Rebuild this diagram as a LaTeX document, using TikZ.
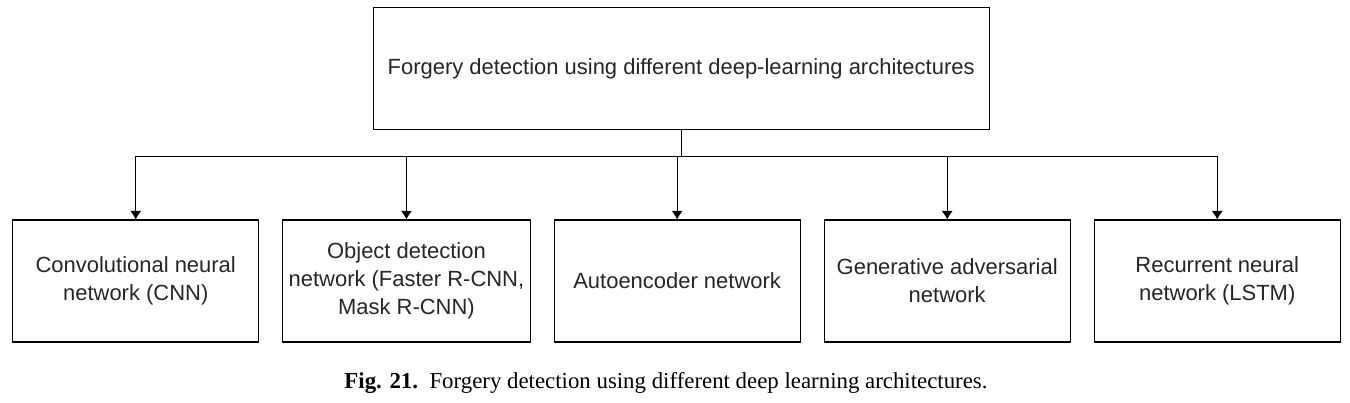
\documentclass[tikz,border=0pt]{standalone}
\usepackage{fontspec}
\setmainfont{Liberation Sans}
\newfontfamily\capfont{Liberation Serif}
\usetikzlibrary{calc}
\usetikzlibrary{positioning}
\usetikzlibrary{arrows.meta}

\begin{document}
\begin{tikzpicture}[thick, line width=0.6pt, >={Latex[length=1.7mm,width=2.2mm]}, arrows=->,
    box/.style={rectangle, draw, minimum width=4.92cm, minimum height=2.44cm,
      align=center, text=black!85, font=\fontsize{12.5}{16}\selectfont},
    topbox/.style={box, minimum width=12.32cm},
  ]
\useasboundingbox (0,0) rectangle (27,-8.04);
\matrix (row) at (13.53,-5.62) [column sep=0.46cm]{
% bottom row
  \node(cnn)[box]{Convolutional neural\\network (CNN)};
  & \node(obj)[box]{Object detection\\network (Faster R-CNN,\\Mask R-CNN)};
  & \node(ae) [box]{Autoencoder network};
  & \node(gan)[box]{Generative adversarial\\network};
  & \node(rnn)[box]{Recurrent neural\\network (LSTM)};\\
};
\node(top)[topbox, above=1.78cm of ae, xshift=0.08cm]
  {Forgery detection using different deep-learning architectures};
\coordinate (bus) at ($(top.south)+(0,-0.52)$);

\draw[-] (top.south) -- (bus);
\draw[-] (cnn.north |- bus) -- (rnn.north |- bus);
\foreach \n in {cnn, obj, ae, gan, rnn} {
  \draw (\n.north |- bus) -- (\n.north);
};

\node(cap) at (13.32,-7.76) [anchor=base, font=\capfont\fontsize{13}{15}\selectfont]
  {\textbf{Fig. 21.}\ \ Forgery detection using different deep learning architectures.};
\end{tikzpicture}
\end{document}
